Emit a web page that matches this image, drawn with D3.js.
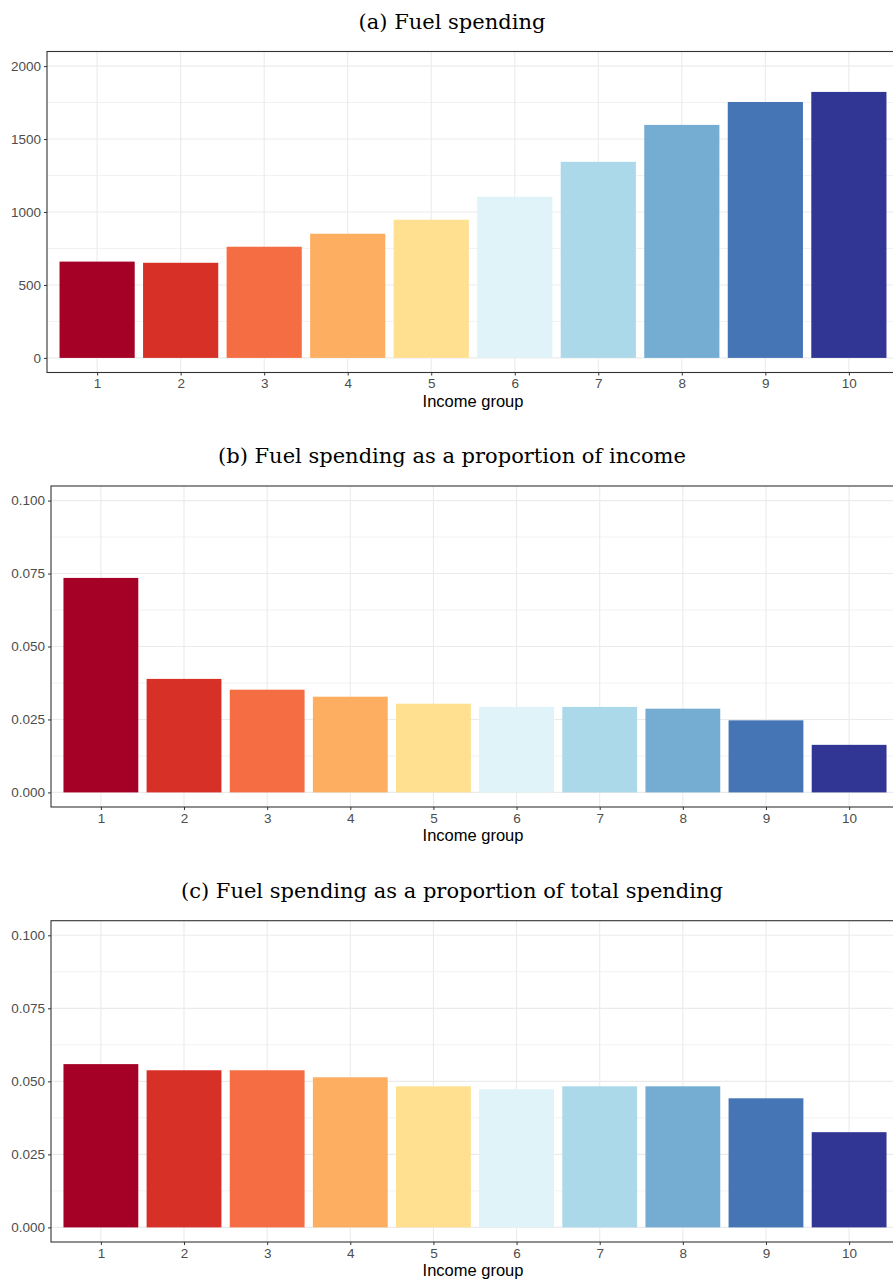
<!DOCTYPE html>
<html>
<head>
<meta charset="utf-8">
<script src="https://cdn.jsdelivr.net/npm/d3@7"></script>
<style>
  body { margin: 0; background: #fff; }
  svg { display: block; }
</style>
</head>
<body>
<div id="chart"></div>
<script>
const groups = [1, 2, 3, 4, 5, 6, 7, 8, 9, 10];
const fuelSpending = [660, 652, 762, 851, 947, 1104, 1344, 1597, 1754, 1823];
const shareOfIncome = [0.0735, 0.0389, 0.0352, 0.0328, 0.0304, 0.0293, 0.0293, 0.0287, 0.0247, 0.0163];
const shareOfSpending = [0.0559, 0.0538, 0.0538, 0.0514, 0.0483, 0.0473, 0.0483, 0.0483, 0.0442, 0.0326];
const ticksA = [0, 500, 1000, 1500, 2000];
const ticksB = [0, 0.025, 0.05, 0.075, 0.1];
const titles = ["(a) Fuel spending", "(b) Fuel spending as a proportion of income", "(c) Fuel spending as a proportion of total spending"];
const colors = ["#a50026", "#d73027", "#f46d43", "#fdae61", "#fee090", "#e0f3f8", "#abd9e9", "#74add1", "#4575b4", "#313695"];

const width = 893, height = 1280;
const svg = d3.select("#chart").append("svg")
  .attr("width", width)
  .attr("height", height);

const right = 899;

function drawPanel(left, top, bottom, title, values, ticks, domain, fmt) {
  const x = d3.scaleLinear().domain([0.4, 10.6]).range([left, right]);
  const y = d3.scaleLinear().domain(domain).range([bottom, top]);
  const g = svg.append("g");

  // title
  g.append("text")
    .attr("x", 452)
    .attr("y", top - 23)
    .attr("text-anchor", "middle")
    .attr("font-family", "DejaVu Serif")
    .attr("font-size", 21)
    .attr("fill", "#000")
    .text(title);

  // minor grid
  const step = ticks[1] - ticks[0];
  const minor = ticks.slice(0, -1).map(t => t + step / 2)
    .concat([ticks[ticks.length - 1] + step / 2, ticks[0] - step / 2])
    .filter(v => v > domain[0] && v < domain[1]);
  g.selectAll(".minor").data(minor).enter().append("line")
    .attr("x1", left).attr("x2", right)
    .attr("y1", d => y(d)).attr("y2", d => y(d))
    .attr("stroke", "#f2f2f2").attr("stroke-width", 1);

  // major grid
  g.selectAll(".hgrid").data(ticks).enter().append("line")
    .attr("x1", left).attr("x2", right)
    .attr("y1", d => y(d)).attr("y2", d => y(d))
    .attr("stroke", "#ebebeb").attr("stroke-width", 1.1);
  g.selectAll(".vgrid").data(groups).enter().append("line")
    .attr("x1", d => x(d)).attr("x2", d => x(d))
    .attr("y1", top).attr("y2", bottom)
    .attr("stroke", "#ebebeb").attr("stroke-width", 1.1);

  // bars
  g.selectAll(".bar").data(values).enter().append("rect")
    .attr("x", (d, i) => x(groups[i] - 0.45))
    .attr("width", x(0.9) - x(0))
    .attr("y", d => y(d))
    .attr("height", d => y(0) - y(d))
    .attr("fill", (d, i) => colors[i]);

  // border
  g.append("rect")
    .attr("x", left).attr("y", top)
    .attr("width", right - left).attr("height", bottom - top)
    .attr("fill", "none").attr("stroke", "#333").attr("stroke-width", 1.1);

  // y axis
  const ya = g.append("g").attr("transform", `translate(${left},0)`)
    .call(d3.axisLeft(y).tickValues(ticks).tickFormat(fmt).tickSize(3).tickPadding(3));
  ya.select(".domain").remove();
  ya.selectAll("line").attr("stroke", "#333");
  ya.selectAll("text").attr("font-family", "Liberation Sans, Arial, sans-serif")
    .attr("font-size", 13.5).attr("fill", "#4d4d4d");

  // x axis
  const xa = g.append("g").attr("transform", `translate(0,${bottom})`)
    .call(d3.axisBottom(x).tickValues(groups).tickFormat(d3.format("d")).tickSize(3).tickPadding(3));
  xa.select(".domain").remove();
  xa.selectAll("line").attr("stroke", "#333");
  xa.selectAll("text").attr("font-family", "Liberation Sans, Arial, sans-serif")
    .attr("font-size", 13.5).attr("fill", "#4d4d4d");

  g.append("text")
    .attr("x", 473)
    .attr("y", bottom + 34)
    .attr("text-anchor", "middle")
    .attr("font-family", "Liberation Sans, Arial, sans-serif")
    .attr("font-size", 16.5)
    .attr("fill", "#000")
    .text("Income group");
}

drawPanel(47, 51.5, 372.5, titles[0], fuelSpending, ticksA, [-100, 2100], d3.format("d"));
drawPanel(51, 486, 807, titles[1], shareOfIncome, ticksB, [-0.005, 0.105], d3.format(".3f"));
drawPanel(51, 920.7, 1242, titles[2], shareOfSpending, ticksB, [-0.005, 0.105], d3.format(".3f"));
</script>
</body>
</html>
